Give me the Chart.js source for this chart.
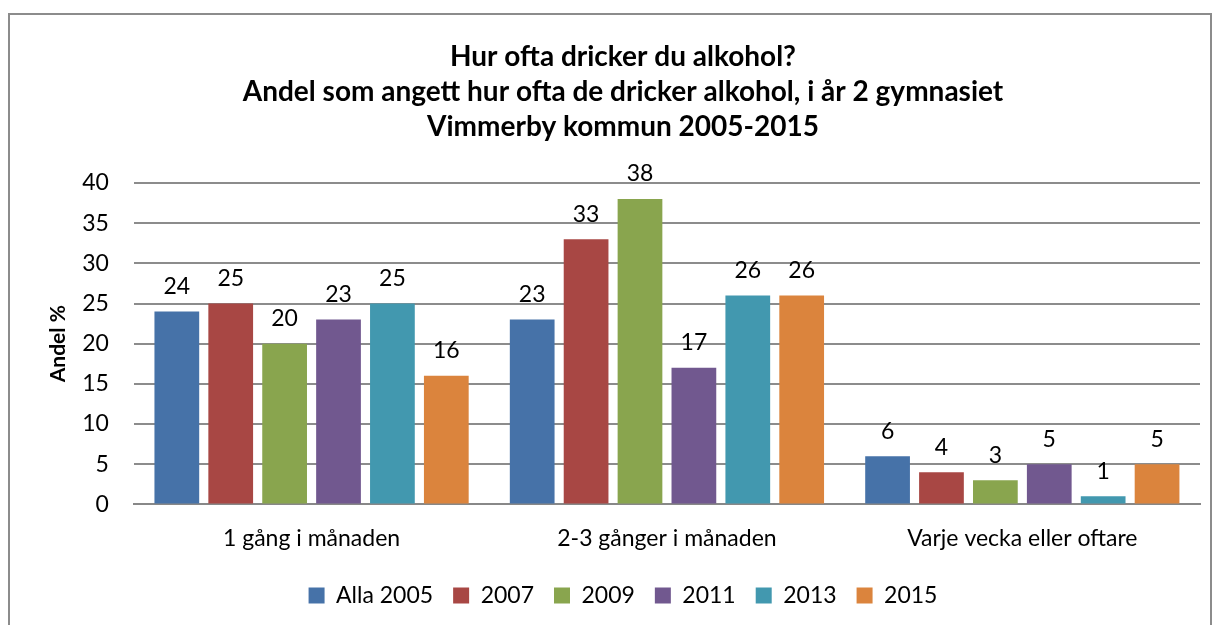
<!DOCTYPE html>
<html>
<head>
<meta charset="utf-8">
<script src="https://cdn.jsdelivr.net/npm/chart.js"></script>
<style>
  body { margin: 0; background: #fff; }
  #wrap {
    position: absolute; left: 8px; top: 13px;
    width: 1204px; height: 625px;
    border: 2px solid #8c8c8c; box-sizing: border-box;
  }
  canvas { display: block; }
</style>
</head>
<body>
<div id="wrap"><canvas id="chart"></canvas></div>
<script>
const categories = ["1 gång i månaden", "2-3 gånger i månaden", "Varje vecka eller oftare"];
const seriesNames = ["Alla 2005", "2007", "2009", "2011", "2013", "2015"];
const values2005 = [24, 23, 6];
const values2007 = [25, 33, 4];
const values2009 = [20, 38, 3];
const values2011 = [23, 17, 5];
const values2013 = [25, 26, 1];
const values2015 = [16, 26, 5];
const colors = ["#4672a8", "#a84744", "#89a54e", "#71588f", "#4298af", "#db843d"];
const titleLines = [
  "Hur ofta dricker du alkohol?",
  "Andel som angett hur ofta de dricker alkohol, i år 2 gymnasiet",
  "Vimmerby kommun 2005-2015"
];

const FONT = "Lato, 'Open Sans', sans-serif";
const allValues = [values2005, values2007, values2009, values2011, values2013, values2015];

// draws the number above each bar
const barLabels = {
  id: "barLabels",
  afterDatasetsDraw(chart) {
    const ctx = chart.ctx;
    ctx.save();
    ctx.font = "23px " + FONT;
    ctx.fillStyle = "#000";
    ctx.textAlign = "center";
    ctx.textBaseline = "middle";
    chart.data.datasets.forEach((ds, i) => {
      chart.getDatasetMeta(i).data.forEach((bar, j) => {
        ctx.fillText(ds.data[j], bar.x, bar.y - 25);
      });
    });
    ctx.restore();
  }
};

const wrap = document.getElementById("wrap");
const canvas = document.getElementById("chart");
canvas.width = wrap.clientWidth;
canvas.height = wrap.clientHeight;

new Chart(canvas, {
  type: "bar",
  data: {
    labels: categories,
    datasets: seriesNames.map((name, i) => ({
      label: name,
      data: allValues[i],
      backgroundColor: colors[i],
      categoryPercentage: 0.91,
      barPercentage: 0.83
    }))
  },
  options: {
    responsive: false,
    animation: false,
    layout: { padding: { left: 36, right: 10, top: 0, bottom: 19 } },
    plugins: {
      title: {
        display: true,
        text: titleLines,
        color: "#000",
        font: { family: FONT, size: 28, weight: "bold", lineHeight: 1.25 },
        padding: { top: 24, bottom: 39 }
      },
      legend: {
        position: "bottom",
        labels: {
          color: "#000",
          font: { family: FONT, size: 23 },
          boxWidth: 16,
          boxHeight: 16,
          padding: 20
        }
      },
      tooltip: { enabled: false }
    },
    scales: {
      x: {
        grid: { display: false },
        border: { color: "#888", width: 2 },
        ticks: { color: "#000", font: { family: FONT, size: 23 }, padding: 12 }
      },
      y: {
        min: 0,
        max: 40,
        ticks: { stepSize: 5, color: "#000", font: { family: FONT, size: 23 }, padding: 25 },
        grid: { color: "#8c8c8c", lineWidth: 2, drawTicks: false },
        border: { display: false },
        title: {
          display: true,
          text: "Andel %",
          color: "#000",
          font: { family: FONT, size: 21, weight: "bold" },
          padding: { top: 0, bottom: -14 }
        }
      }
    }
  },
  plugins: [barLabels]
});
</script>
</body>
</html>
